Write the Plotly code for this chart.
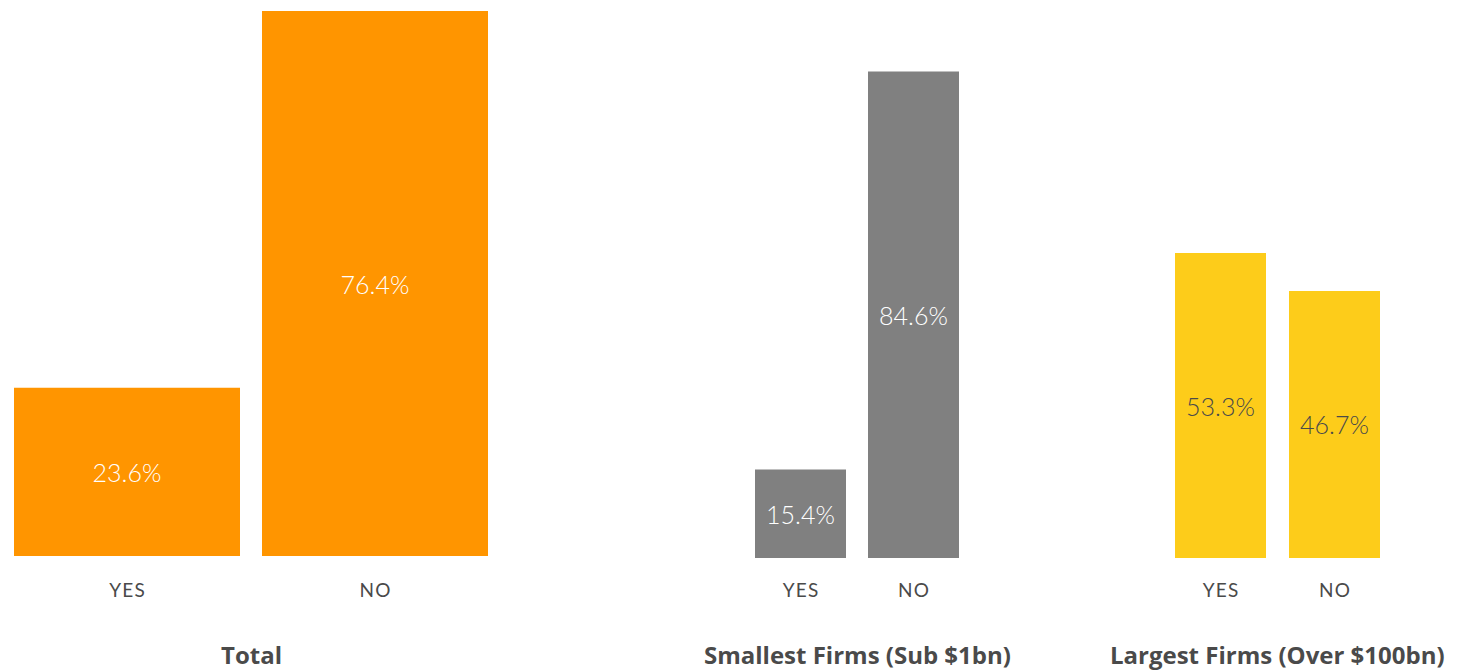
import plotly.graph_objects as go

W, H = 1461, 671

categories = ["YES", "NO"]
total_vals = [23.6, 76.4]
small_vals = [15.4, 84.6]
large_vals = [53.3, 46.7]
titles = ["Total", "Smallest Firms (Sub $1bn)", "Largest Firms (Over $100bn)"]

ORANGE = "#FF9500"
GRAY = "#808080"
YELLOW = "#FDCC1A"
TXT = "#4a4a4a"

tick_text = ["\u200aY\u200aE\u200aS\u200a", "\u200aN\u200aO\u200a"]

panels = [
    dict(vals=total_vals, color=ORANGE, tc="white", x0=14, x1=488, w=226 / 248, base=556, top=11, ymax=76.4, so=21),
    dict(vals=small_vals, color=GRAY, tc="white", x0=755, x1=959, w=91 / 113, base=558, top=10, ymax=548 / 5.75, so=19),
    dict(vals=large_vals, color=YELLOW, tc=TXT, x0=1175, x1=1380, w=91 / 114, base=558, top=10, ymax=548 / 5.72, so=19),
]

fig = go.Figure()
for i, p in enumerate(panels):
    n = i + 1
    xa = "x" if n == 1 else f"x{n}"
    ya = "y" if n == 1 else f"y{n}"
    fig.add_trace(go.Bar(
        x=[0, 1], y=p["vals"], width=p["w"],
        marker=dict(color=p["color"], line=dict(width=0)),
        text=[f"{v:.1f}%" for v in p["vals"]],
        textposition="inside", insidetextanchor="middle",
        textfont=dict(family="Lato", size=25, color=p["tc"], weight=300),
        xaxis=xa, yaxis=ya, hoverinfo="skip", showlegend=False,
    ))
    w = p["w"]
    xdom = [p["x0"] / W, p["x1"] / W]
    ydom = [(H - p["base"]) / H, (H - p["top"]) / H]
    key = "" if n == 1 else str(n)
    fig.layout[f"xaxis{key}"] = dict(
        domain=xdom, range=[-w / 2, 1 + w / 2], tickmode="array",
        tickvals=[0, 1], ticktext=tick_text, showgrid=False, zeroline=False,
        showline=False, ticks="", anchor=ya, ticklabelstandoff=p["so"],
        tickfont=dict(family="Lato", size=19, color=TXT),
    )
    fig.layout[f"yaxis{key}"] = dict(
        domain=ydom, range=[0, p["ymax"]], visible=False, anchor=xa,
    )
    fig.add_annotation(
        x=(p["x0"] + p["x1"]) / 2 / W, y=(H - 654.5) / H, xref="paper", yref="paper",
        text=f"<b>{titles[i]}</b>", showarrow=False, xanchor="center", yanchor="middle",
        borderpad=0, font=dict(family="Open Sans", size=24, color=TXT),
    )

fig.update_layout(
    width=W, height=H, margin=dict(l=0, r=0, t=0, b=0),
    paper_bgcolor="white", plot_bgcolor="white",
    uniformtext=dict(minsize=25, mode="show"),
)

fig.write_html("out.html")
